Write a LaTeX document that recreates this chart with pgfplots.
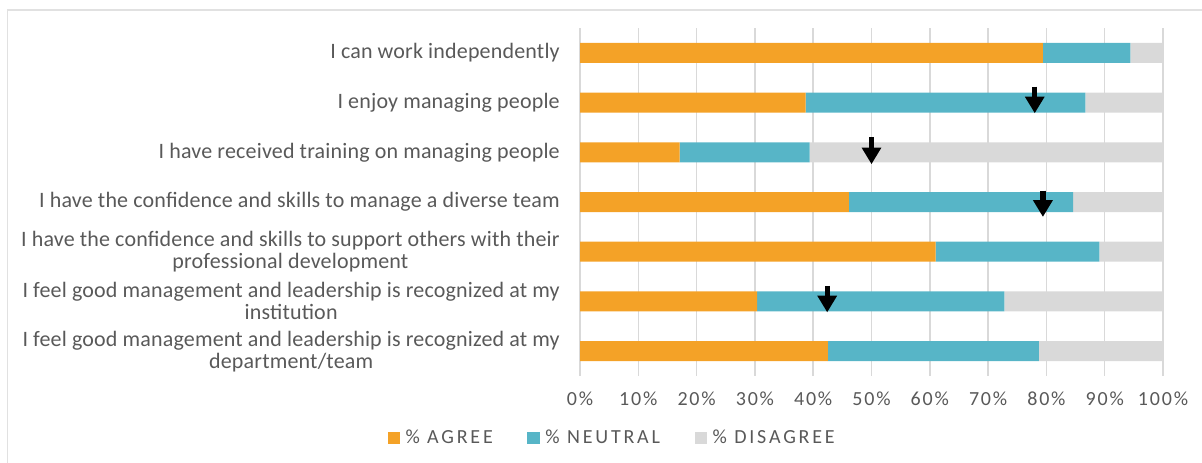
\documentclass[border=0pt]{standalone}
\usepackage{fontspec}
\setmainfont{Carlito}
\newfontfamily\lblfont{Carlito}[LetterSpace=0.8]
\newfontfamily\legfont{Carlito}[LetterSpace=14]
\newfontfamily\tickfont{Carlito}[LetterSpace=9]
\usepackage{pgfplots}
\pgfplotsset{compat=1.18}
\usetikzlibrary{arrows.meta}
\definecolor{cagree}{HTML}{F4A227}
\definecolor{cneutral}{HTML}{57B5C7}
\definecolor{cdis}{HTML}{D9D9D9}
\definecolor{cgrid}{HTML}{D9D9D9}
\definecolor{ctext}{HTML}{595959}
\begin{document}
\begin{tikzpicture}
\path[use as bounding box] (0,0) rectangle (901.5pt,347.25pt);
\draw[cgrid!80, line width=1.2pt] (5.6pt,-2pt) -- (5.6pt,339.75pt) -- (905pt,339.75pt);
\begin{axis}[
  at={(435pt,65.25pt)}, anchor=south west,
  scale only axis, width=437.25pt, height=261pt,
  xbar stacked, bar width=15pt,
  xmin=0, xmax=100, ymin=-0.5, ymax=6.5,
  y dir=reverse,
  axis line style={draw=none},
  major tick length=0pt,
  xmajorgrids, grid style={cgrid, line width=1.1pt},
  xtick={0,10,...,100},
  xticklabels={0\%,10\%,20\%,30\%,40\%,50\%,60\%,70\%,80\%,90\%,100\%},
  xticklabel style={font=\tickfont\fontsize{15}{17}\selectfont, text=ctext, yshift=-8pt},
  ytick={0,1,2,3,4,5,6},
  yticklabels={
    I can work independently,
    I enjoy managing people,
    I have received training on managing people,
    I have the confidence and skills to manage a diverse team,
    {I have the confidence and skills to support others with their\\professional development},
    {I feel good management and leadership is recognized at my\\institution},
    {I feel good management and leadership is recognized at my\\department/team}},
  yticklabel style={font=\lblfont\fontsize{16.5}{16.5}\selectfont, text=ctext, align=center, inner sep=0pt, xshift=-15pt},
  legend style={at={(0.0557,-0.178)}, anchor=center, draw=none, fill=none,
    legend columns=3, font=\legfont\fontsize{15}{17}\selectfont, text=ctext,
    /tikz/every odd column/.append style={column sep=2pt},
    /tikz/every even column/.append style={column sep=24pt},
    legend cell align=left},
  legend image code/.code={\fill[#1] (0pt,-4.75pt) rectangle (9.5pt,4.75pt);},
]
\addplot[fill=cagree, draw=none] coordinates {(79.4,0) (38.7,1) (17.1,2) (46.1,3) (61.0,4) (30.4,5) (42.5,6)};
\addplot[fill=cneutral, draw=none] coordinates {(15.0,0) (48.0,1) (22.3,2) (38.5,3) (28.1,4) (42.4,5) (36.2,6)};
\addplot[fill=cdis, draw=none] coordinates {(5.6,0) (13.3,1) (60.6,2) (15.4,3) (10.9,4) (27.2,5) (21.3,6)};
\legend{\% AGREE, \% NEUTRAL, \% DISAGREE}
\end{axis}
\begin{axis}[
  at={(435pt,65.25pt)}, anchor=south west,
  scale only axis, width=437.25pt, height=261pt,
  xmin=0, xmax=100, ymin=-0.5, ymax=6.5,
  y dir=reverse, hide axis,
]
\addplot[black, line width=4pt, -{Triangle[width=14pt,length=12.5pt]},
  quiver={u=0, v=\thisrow{v}}] table {
x y v
78.0 0.68 0.535
50.0 1.70 0.54
79.4 2.77 0.53
42.4 4.685 0.535
};
\end{axis}
\end{tikzpicture}
\end{document}
